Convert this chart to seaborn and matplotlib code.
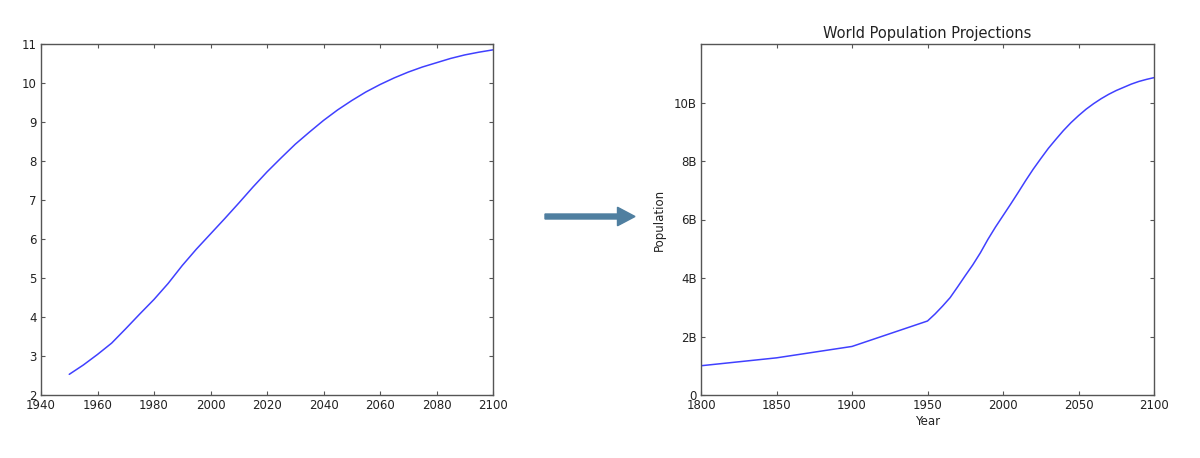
import matplotlib
matplotlib.use("Agg")
import matplotlib.pyplot as plt
from matplotlib.patches import FancyArrow
from matplotlib.ticker import FuncFormatter
import seaborn as sns
import pandas as pd

# Left panel: projections 1950-2100 (billions)
proj_years = [1950, 1955, 1960, 1965, 1970, 1975, 1980, 1985, 1990, 1995,
              2000, 2005, 2010, 2015, 2020, 2025, 2030, 2035, 2040, 2045,
              2050, 2055, 2060, 2065, 2070, 2075, 2080, 2085, 2090, 2095, 2100]
proj_pop = [2.53, 2.77, 3.04, 3.33, 3.70, 4.08, 4.45, 4.86, 5.32, 5.74,
            6.13, 6.52, 6.92, 7.33, 7.72, 8.08, 8.43, 8.74, 9.04, 9.31,
            9.55, 9.77, 9.96, 10.13, 10.28, 10.41, 10.52, 10.63, 10.72, 10.79, 10.85]

# Right panel: historical values prepended (billions)
hist_years = [1800, 1850, 1900]
hist_pop = [1.00, 1.27, 1.66]

left_xticks = [1940, 1960, 1980, 2000, 2020, 2040, 2060, 2080, 2100]
left_yticks = [2, 3, 4, 5, 6, 7, 8, 9, 10, 11]
right_xticks = [1800, 1850, 1900, 1950, 2000, 2050, 2100]
right_yticks = [0, 2, 4, 6, 8, 10]

title = "World Population Projections"
xlabel = "Year"
ylabel = "Population"

sns.set_style("white")
plt.rcParams['font.family'] = ['DejaVu Sans']

fig = plt.figure(figsize=(12, 4.58), dpi=100)
ax1 = fig.add_axes([41/1200, 1-395/458, (493-41)/1200, (395-44)/458])
ax2 = fig.add_axes([701/1200, 1-395/458, (1154-701)/1200, (395-44)/458])

df1 = pd.DataFrame({"year": proj_years, "pop": proj_pop})
df2 = pd.DataFrame({"year": hist_years + proj_years, "pop": hist_pop + proj_pop})

line_color = "#4040ff"
sns.lineplot(data=df1, x="year", y="pop", ax=ax1, color=line_color, linewidth=1.1)
sns.lineplot(data=df2, x="year", y="pop", ax=ax2, color=line_color, linewidth=1.1)

fs = 8.5
for ax in (ax1, ax2):
    for s in ax.spines.values():
        s.set_color("#555555")
        s.set_linewidth(1.0)
        s.set_visible(True)
    ax.tick_params(direction="in", length=3, width=0.8, color="#555555",
                   top=True, right=True, bottom=True, left=True,
                   labelsize=fs, labelcolor="#222222", pad=3)

ax1.set_xlim(1940, 2100)
ax1.set_ylim(2, 11)
ax1.set_xticks(left_xticks)
ax1.set_yticks(left_yticks)
ax1.set_xlabel("")
ax1.set_ylabel("")

ax2.set_xlim(1800, 2100)
ax2.set_ylim(0, 12)
ax2.set_xticks(right_xticks)
ax2.set_yticks(right_yticks)
ax2.yaxis.set_major_formatter(FuncFormatter(lambda v, p: "0" if v == 0 else f"{v:.0f}B"))
ax2.set_title(title, fontsize=10.5, color="#222222", pad=4)
ax2.set_xlabel(xlabel, fontsize=fs, color="#222222", labelpad=2)
ax2.set_ylabel(ylabel, fontsize=fs, color="#222222", labelpad=6)

arrow = FancyArrow(5.45, (458 - 216.5) / 100, 0.90, 0, width=0.05,
                   head_width=0.185, head_length=0.175, length_includes_head=True,
                   color="#4f7fa0", transform=fig.dpi_scale_trans)
fig.add_artist(arrow)

fig.savefig("out.png", dpi=100, facecolor="white")
